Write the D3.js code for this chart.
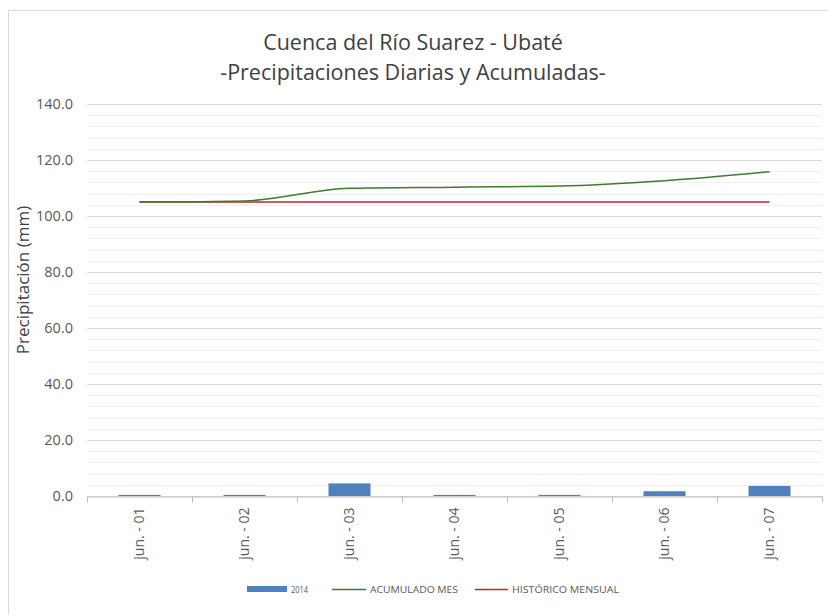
<!DOCTYPE html>
<html>
<head>
<meta charset="utf-8">
<script src="https://cdn.jsdelivr.net/npm/d3@7"></script>
<style>
  body { margin: 0; background: #fff; }
  text { font-family: "Open Sans", "Noto Sans", sans-serif; }
</style>
</head>
<body>
<div id="chart"></div>
<script>
// data
var days = ["jun. - 01", "jun. - 02", "jun. - 03", "jun. - 04", "jun. - 05", "jun. - 06", "jun. - 07"];
var rain2014 = [0.4, 0.4, 4.5, 0.4, 0.4, 1.7, 3.6];
var acumulado = [105.0, 105.4, 109.9, 110.3, 110.7, 112.6, 115.8];
var historico = [105.0, 105.0, 105.0, 105.0, 105.0, 105.0, 105.0];
var yTicks = [0, 20, 40, 60, 80, 100, 120, 140];
var legendNames = ["2014", "ACUMULADO MES", "HISTÓRICO MENSUAL"];

var W = 828, H = 615;
var margin = {top: 104, right: 6, bottom: 119, left: 87};
var width_graph = W - margin.left - margin.right;
var height_graph = H - margin.top - margin.bottom;

var svg = d3.select("#chart").append("svg")
    .attr("width", W)
    .attr("height", H);

// chart frame
svg.append("rect")
    .attr("x", 8.5).attr("y", 10.5)
    .attr("width", W).attr("height", H)
    .attr("fill", "none")
    .attr("stroke", "#d9d9d9");

var g = svg.append("g")
    .attr("transform", "translate(" + margin.left + "," + margin.top + ")");

var xScale = d3.scaleBand()
    .domain(days)
    .range([0, width_graph]);

var yScale = d3.scaleLinear()
    .domain([0, 140])
    .range([height_graph, 0]);

// minor gridlines every 4
g.append("g")
    .selectAll("line")
    .data(d3.range(0, 141, 4).filter(function(v) { return v % 20 != 0; }))
    .enter().append("line")
    .attr("x1", 0).attr("x2", width_graph)
    .attr("y1", function(d) { return Math.round(yScale(d)) + 0.5; })
    .attr("y2", function(d) { return Math.round(yScale(d)) + 0.5; })
    .attr("stroke", "#f0f0f0");

// major gridlines + y axis labels
var yAxis = d3.axisLeft(yScale)
    .tickValues(yTicks)
    .tickSize(-width_graph)
    .tickPadding(14)
    .tickFormat(d3.format(".1f"));

var yg = g.append("g").call(yAxis);
yg.select(".domain").remove();
yg.selectAll(".tick line").attr("stroke", "#d9d9d9");
yg.selectAll(".tick text")
    .attr("fill", "#595959")
    .style("font-size", "14.5px");

// bars
g.append("g")
    .selectAll("rect")
    .data(rain2014)
    .enter().append("rect")
    .attr("x", function(d, i) { return xScale(days[i]) + xScale.bandwidth() * 0.3; })
    .attr("width", xScale.bandwidth() * 0.4)
    .attr("y", function(d) { return yScale(d); })
    .attr("height", function(d) { return yScale(0) - yScale(d); })
    .attr("fill", "#4f81bd");

// x axis
var xAxis = d3.axisBottom(xScale).tickSize(0).tickPadding(12);
var xg = g.append("g")
    .attr("transform", "translate(0," + (Math.round(height_graph) + 0.5) + ")")
    .call(xAxis);
xg.select(".domain").attr("stroke", "#bfbfbf");
xg.selectAll(".tick text")
    .attr("fill", "#595959")
    .style("font-size", "14px")
    .attr("transform", "rotate(-90)")
    .attr("text-anchor", "end")
    .attr("x", -11)
    .attr("y", 0)
    .attr("dy", "0.35em");

// small tick marks between categories
xg.append("g")
    .selectAll("line")
    .data(d3.range(days.length + 1))
    .enter().append("line")
    .attr("x1", function(i) { return Math.round(i * xScale.step()) + 0.5; })
    .attr("x2", function(i) { return Math.round(i * xScale.step()) + 0.5; })
    .attr("y1", 0).attr("y2", 6)
    .attr("stroke", "#bfbfbf");

// lines
var valueline = d3.line()
    .x(function(d, i) { return xScale(days[i]) + xScale.bandwidth() / 2; })
    .y(function(d) { return yScale(d); })
    .curve(d3.curveMonotoneX);

g.append("path")
    .attr("fill", "none")
    .attr("stroke", "#c0262b")
    .attr("stroke-width", 1.5)
    .attr("d", valueline(historico));

g.append("path")
    .attr("fill", "none")
    .attr("stroke", "#3e7c2e")
    .attr("stroke-width", 1.5)
    .attr("d", valueline(acumulado));

// title
svg.append("text")
    .attr("x", 413).attr("y", 50)
    .attr("text-anchor", "middle")
    .attr("fill", "#404040")
    .style("font-size", "21.5px")
    .text("Cuenca del Río Suarez - Ubaté");
svg.append("text")
    .attr("x", 413).attr("y", 80)
    .attr("text-anchor", "middle")
    .attr("fill", "#404040")
    .style("font-size", "21.5px")
    .text("-Precipitaciones Diarias y Acumuladas-");

// y axis title
svg.append("text")
    .attr("transform", "translate(29,280) rotate(-90)")
    .attr("text-anchor", "middle")
    .attr("fill", "#404040")
    .style("font-size", "17px")
    .text("Precipitación (mm)");

// legend
var lg = svg.append("g").attr("transform", "translate(0,589)");
lg.append("rect")
    .attr("x", 247).attr("y", -3)
    .attr("width", 40).attr("height", 6)
    .attr("fill", "#4f81bd");
lg.append("line")
    .attr("x1", 332).attr("x2", 366).attr("y1", 0.5).attr("y2", 0.5)
    .attr("stroke", "#3e7c2e").attr("stroke-width", 1.5);
lg.append("line")
    .attr("x1", 475).attr("x2", 508).attr("y1", 0.5).attr("y2", 0.5)
    .attr("stroke", "#c0262b").attr("stroke-width", 1.5);
var legendX = [291, 370, 512];
lg.selectAll("text.leg")
    .data(legendNames)
    .enter().append("text")
    .attr("class", "leg")
    .attr("x", function(d, i) { return legendX[i]; })
    .attr("y", 3.5)
    .attr("fill", "#595959")
    .style("font-size", "8.5px")
    .attr("textLength", function(d, i) { return [17, 88, 107][i]; })
    .attr("lengthAdjust", "spacingAndGlyphs")
    .text(function(d) { return d; });
</script>
</body>
</html>
